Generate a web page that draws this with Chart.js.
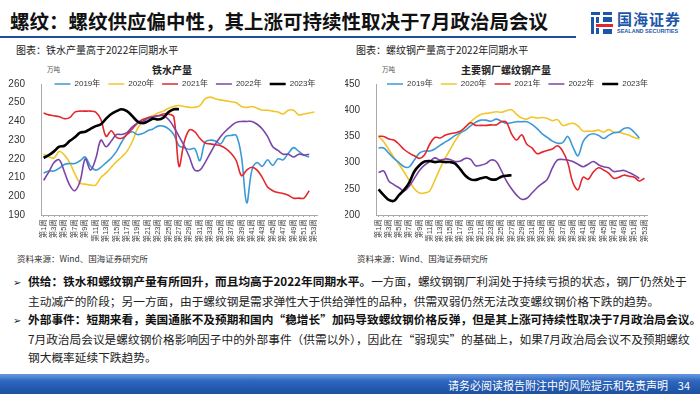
<!DOCTYPE html>
<html>
<head>
<meta charset="utf-8">
<script src="https://cdn.jsdelivr.net/npm/chart.js@4.4.1/dist/chart.umd.min.js"></script>
<style>
  body { margin: 0; }
  #slide { position: relative; width: 700px; height: 394px; background: #fff; overflow: hidden;
           font-family: "Noto Sans CJK SC", "Liberation Sans", sans-serif; color: #222; }
  .abs { position: absolute; white-space: nowrap; }
  #title { left: 10px; top: 6px; font-size: 19.5px; font-weight: 700; color: #111; }
  #rule { left: 0; top: 36px; width: 576px; height: 2px; background: #1f4e9c; }
  .sub { top: 42px; font-size: 10px; color: #222; }
  .ctitle { top: 62px; font-size: 10px; font-weight: 700; color: #222; }
  .unit { top: 64px; font-size: 6.5px; color: #555; }
  .src { top: 252px; font-size: 8.5px; color: #333; }
  canvas { position: absolute; }
  #bullets { left: 13px; top: 272px; font-size: 11.7px; line-height: 18px; color: #222; }
  #bullets b { font-weight: 700; color: #111; }
  .mk { display: inline-block; width: 15px; font-family: "DejaVu Sans"; font-size: 10px; }
  .ind { padding-left: 15px; }
  #footer { left: 0; top: 374px; width: 700px; height: 20px;
            background: linear-gradient(180deg, #6b9be0 0%, #2e67c0 35%, #1d4f9f 100%); }
  #ftxt { right: 10px; top: 377px; font-size: 11px; color: #fff; }
</style>
</head>
<body>
<div id="slide">
  <div class="abs" id="title">螺纹：螺纹供应偏中性，其上涨可持续性取决于7月政治局会议</div>
  <div class="abs" id="rule"></div>
  <svg class="abs" style="left:590px;top:11px" width="24" height="24" viewBox="0 0 24 24">
    <rect x="1" y="1" width="9" height="3" fill="#1d56a8"/>
    <rect x="13" y="1" width="9" height="3" fill="#1d56a8"/>
    <rect x="1" y="6" width="3" height="17" fill="#1d56a8"/>
    <rect x="6" y="6" width="3" height="6" fill="#1d56a8"/>
    <rect x="6" y="17" width="3" height="6" fill="#1d56a8"/>
    <rect x="13" y="6" width="9" height="5" fill="#1d56a8"/>
    <rect x="6" y="13" width="17" height="3" fill="#e0262b"/>
    <rect x="13" y="18" width="9" height="5" fill="#1d56a8"/>
  </svg>
  <div class="abs" style="left:617px;top:8px;font-size:15px;font-weight:700;color:#1d56a8;letter-spacing:1px">国海证券</div>
  <div class="abs" style="left:617px;top:28px;font-size:5.5px;font-weight:700;color:#1d56a8;font-family:'Liberation Sans'">SEALAND SECURITIES</div>

  <div class="abs sub" style="left:16px">图表：铁水产量高于2022年同期水平</div>
  <div class="abs sub" style="left:356px">图表：螺纹钢产量高于2022年同期水平</div>
  <div class="abs ctitle" style="left:152px">铁水产量</div>
  <div class="abs ctitle" style="left:461px">主要钢厂螺纹钢产量</div>
  <div class="abs unit" style="left:47px">万吨</div>
  <div class="abs unit" style="left:382px">万吨</div>

  <canvas id="ironChart" style="left:0;top:70px" width="330" height="182"></canvas>
  <canvas id="rebarChart" style="left:345px;top:70px" width="330" height="182"></canvas>

  <div class="abs src" style="left:17px">资料来源：Wind、国海证券研究所</div>
  <div class="abs src" style="left:357px">资料来源：Wind、国海证券研究所</div>

  <div class="abs" id="bullets">
    <div><span class="mk">➢</span><b>供给：铁水和螺纹钢产量有所回升，而且均高于2022年同期水平。</b>一方面，螺纹钢钢厂利润处于持续亏损的状态，钢厂仍然处于</div>
    <div class="ind">主动减产的阶段；另一方面，由于螺纹钢是需求弹性大于供给弹性的品种，供需双弱仍然无法改变螺纹钢价格下跌的趋势。</div>
    <div><span class="mk">➢</span><b>外部事件：短期来看，美国通胀不及预期和国内“稳增长”加码导致螺纹钢价格反弹，但是其上涨可持续性取决于7月政治局会议。</b></div>
    <div class="ind">7月政治局会议是螺纹钢价格影响因子中的外部事件（供需以外），因此在“弱现实”的基础上，如果7月政治局会议不及预期螺纹</div>
    <div class="ind">钢大概率延续下跌趋势。</div>
  </div>

  <div class="abs" id="footer"></div>
  <div class="abs" id="ftxt">请务必阅读报告附注中的风险提示和免责声明&nbsp;&nbsp;&nbsp;&nbsp;34</div>
</div>

<script>
const WEEKS = Array.from({ length: 53 }, (_, i) => '第' + (i + 1) + '周');
const YEARS = ['2019年', '2020年', '2021年', '2022年', '2023年'];
const COLORS = ['#3b9ad6', '#f2c62a', '#e5262b', '#7b45a6', '#000000'];

// 铁水产量（万吨）
const iron2019 = [212.5,213.5,213.5,215,217,217.5,217.5,219,221,216,
  214,215.5,218,220.5,224,229,233,234.5,233,233.5,
  235,236,237.5,237.5,236,233,227,226,225,225.5,
  219,229,230,229.5,228,232,232.5,232.5,221,196.5,
  214,218,216,219.5,216.5,220,219.5,223,226,224,222,221];
const iron2020 = [222.5,221,220.5,224,222,218,212,207,206.5,206,
  206,210,212.5,215.5,218.5,221,224,229,236,240,
  242,243,244.5,245.5,247,248,248.5,248,247.5,247.5,
  248.5,252,253,252,251.5,251,250.5,250,248,247.5,
  248,247,246,246,245.5,245,244,246,246,243.5,244,244.5,245];
const iron2021 = [244.5,243.5,243,242.5,241.5,242,245,245.5,245.5,245.5,
  245,241,232,235,231.5,231,233,236,239,241,
  242,242.5,243,244,244,242.5,216,229,235.5,234.5,
  231,228.5,228,227.5,227,225.5,223,219,211,214,
  215.5,214,210,205,203,202,201.5,200.5,199,199,199,203];
const iron2022 = [208.5,213,218,219.5,213,206,203,208,220,214,
  220,230,226.5,229.5,233,233,234,237,239,240,
  241.5,242.5,243,243,241,237,232,227,221,214,
  214,218,223,228,232,235,237.5,239.5,240,240,
  240,238.5,236,232,226.5,224.5,222.5,222.5,221,222.5,222,222.5];
const iron2023 = [220.5,222,224,226.5,227,229.5,231.5,234,234.5,236,
  237.5,238.5,241.5,244,245.5,246.5,245.5,243,240,239,
  240,241.5,241,242,245,246.5,246.5];

// 主要钢厂螺纹钢产量（万吨）
const rebar2019 = [328,328,318,308,300,292,292,305,318,322,
  322,326,333,339,345,352,357,362,370,377,
  381,381,379,383,379,375,376,378,378,378,
  373,365,355,348,341,337,338,350,330,313,
  340,352,355,352,346,352,357,358,365,366,358,347];
const rebar2020 = [350,340,325,310,297,282,266,250,242,242,
  246,266,288,308,325,342,356,368,378,386,
  392,394,395,397,396,399,401,392,385,383,
  387,385,386,384,380,382,371,373,375,370,
  360,360,360,362,358,363,358,358,355,352,348,345];
const rebar2021 = [350,350,345,343,335,325,318,313,308,315,
  335,348,347,352,355,357,360,368,376,371,
  371,371,372,372,378,377,355,343,353,335,
  328,317,320,323,326,332,322,300,262,248,
  272,268,282,290,286,280,270,272,276,274,272,265,270];
const rebar2022 = [281,284,265,258,252,246,255,270,285,295,
  302,309,305,307,306,302,303,308,306,294,
  295,298,305,302,285,265,250,238,230,232,
  242,252,260,268,290,305,306,305,302,297,
  292,297,302,296,292,290,283,284,285,281,276,270];
const rebar2023 = [249,238,229,227,238,248,262,283,295,302,
  303,301,302,301,301,298,287,275,268,267,
  270,272,268,268,273,275,276];

const FONT = '"Liberation Sans", "Noto Sans CJK SC", sans-serif';
const ORDER = [3, 4, 2, 1, 0];

// the legend takes no room (maxHeight 1); slide it over the top of the plot,
// centred on the plot, and give it a real height so its clip doesn't hide it
const legendInPlot = {
  id: 'legendInPlot',
  afterLayout(chart) {
    const lg = chart.legend, ca = chart.chartArea;
    if (!lg) return;
    const dx = (ca.left + ca.right) / 2 - (lg.left + lg.right) / 2 + 6;
    lg.left += dx;
    lg.right += dx;
    lg.top = ca.top - 12;
    lg.bottom = lg.top + 24;
    lg.height = 24;
  }
};

function makeChart(id, series, yMin, yMax, step, axisWidth, padRight) {
  return new Chart(document.getElementById(id), {
    type: 'line',
    data: {
      labels: WEEKS,
      datasets: series.map((d, i) => ({
        label: YEARS[i],
        data: d,
        borderColor: COLORS[i],
        backgroundColor: COLORS[i],
        borderWidth: i === 4 ? 2.6 : 1.6,
        pointRadius: 0,
        tension: 0.35,
        order: ORDER[i]
      }))
    },
    options: {
      responsive: false,
      animation: false,
      layout: { padding: { top: 7, right: padRight, left: 0, bottom: 0 } },
      plugins: {
        legend: {
          position: 'top',
          maxHeight: 1,
          labels: {
            usePointStyle: true,
            pointStyle: 'line',
            pointStyleWidth: 16,
            padding: 8,
            color: '#333',
            font: { family: FONT, size: 8 },
            sort: (a, b) => a.datasetIndex - b.datasetIndex
          }
        },
        tooltip: { enabled: false }
      },
      scales: {
        x: {
          offset: true,
          grid: { display: true, drawOnChartArea: false, tickLength: 2, color: '#aaa' },
          border: { color: '#aaa' },
          ticks: {
            autoSkip: false, minRotation: 90, maxRotation: 90, padding: 2,
            color: '#444', font: { family: FONT, size: 7.5 },
            callback: (v, i) => (i % 2 === 0 ? WEEKS[i] : '')
          },
          afterFit: s => { s.height = 37; }
        },
        y: {
          min: yMin, max: yMax,
          grid: { display: false },
          border: { color: '#aaa' },
          ticks: { stepSize: step, padding: 8, color: '#333', font: { family: FONT, size: 10 } },
          afterFit: s => { s.width = axisWidth; }
        }
      }
    },
    plugins: [legendInPlot]
  });
}

makeChart('ironChart', [iron2019, iron2020, iron2021, iron2022, iron2023], 190, 260, 10, 41, 13);
makeChart('rebarChart', [rebar2019, rebar2020, rebar2021, rebar2022, rebar2023], 200, 450, 50, 31, 28);
</script>
</body>
</html>
